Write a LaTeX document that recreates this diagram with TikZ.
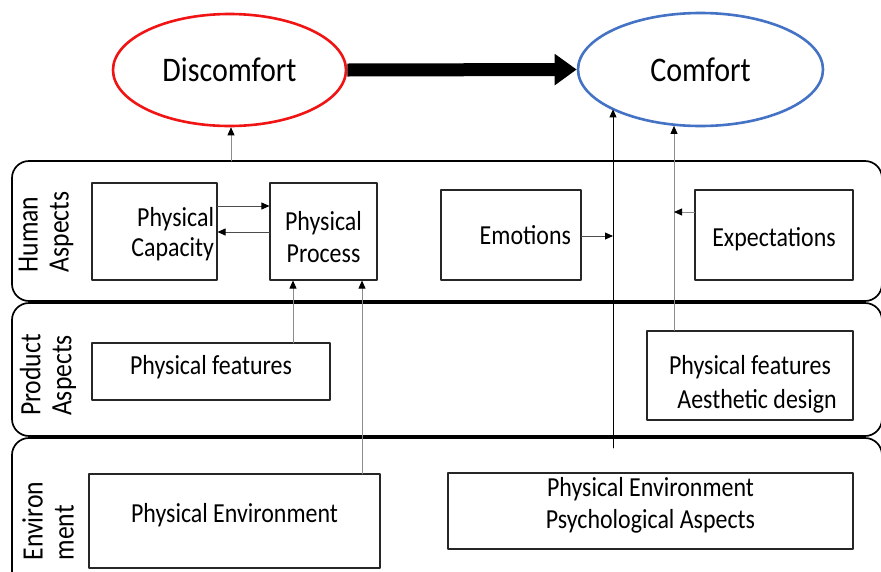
\documentclass[tikz,border=0pt]{standalone}
\usepackage{fontspec}
\setmainfont{Carlito}[FakeStretch=0.87]
\usetikzlibrary{arrows.meta,shapes.geometric}
\definecolor{disc_red}{RGB}{240,20,20}
\definecolor{comf_blue}{RGB}{68,114,196}
\colorlet{link_gray}{black!45}
\colorlet{box_line}{black!85}

\begin{document}
\begin{tikzpicture}[x=1pt,y=-1pt,line cap=round,line join=round,
  lane/.style={line width=1.7pt,rounded corners=17pt},
  box/.style={draw=box_line,line width=1.1pt,inner sep=2pt,font=\fontsize{27.5}{30}\selectfont},
  oval/.style={ellipse,line width=2.6pt,inner sep=0pt,font=\fontsize{34.5}{40}\selectfont},
  side/.style={rotate=90,align=left,inner sep=0pt,font=\fontsize{29.5}{31}\selectfont},
  link/.style={draw=link_gray,line width=0.8pt,-{Triangle[length=8pt,width=7pt,color=black]}}]

\useasboundingbox (0,0) rectangle (881,571);
\clip (0,0) rectangle (881,571);

%-----------------------------------------------
% the three lanes
\draw[lane] (12,161) rectangle (882,301);
\draw[lane] (12,303) rectangle (882,436);
\draw[lane] (12,438) rectangle (882,600);

\node[side] (hum_lbl) at (46,232) {Human\\Aspects};
\node[side] (prod_lbl) at (48,375) {Product\\Aspects};
\node[side] (env_lbl) at (48,521) {Environ\\ment};

%-----------------------------------------------
% states
\node[oval,draw=disc_red,minimum width=233pt,minimum height=112pt] (disc) at (229.5,70) {Discomfort};
\node[oval,draw=comf_blue,minimum width=245pt,minimum height=113pt] (comf) at (700.5,69.5) {Comfort};

\draw[line width=13pt,line cap=butt,-{Triangle[length=22pt,width=30pt]}] (disc.east) -- (comf.west);

%-----------------------------------------------
% boxes
\node[box,minimum width=125pt,minimum height=97pt,text width=119pt,align=right] (cap) at (154.5,231.5) {\rule{0pt}{25pt}Physical\\Capacity};
\node[box,minimum width=107pt,minimum height=97pt,align=center,font=\fontsize{27.5}{32}\selectfont] (proc) at (323.5,231.5) {\rule{0pt}{30pt}Physical\\Process};
\node[box,minimum width=140pt,minimum height=90pt,text width=120pt,align=right] (emo) at (511,235) {Emotions};
\node[box,minimum width=158pt,minimum height=90pt,align=center] (exp) at (774,235) {\rule{0pt}{27pt}Expectations};

\node[box,minimum width=238pt,minimum height=57pt] (pf1) at (211,371.5) {Physical features\rule[-13pt]{0pt}{13pt}};
\node[box,minimum width=206pt,minimum height=89pt,align=center,font=\fontsize{27.5}{34}\selectfont] (pf2) at (750,375.5) {\rule{0pt}{36pt}Physical features\\\hspace*{14pt}Aesthetic design};

\node[box,minimum width=291pt,minimum height=94pt] (pe1) at (234.5,521) {Physical Environment\rule[-17pt]{0pt}{17pt}};
\node[box,minimum width=405pt,minimum height=76pt,align=center,font=\fontsize{27.5}{32}\selectfont] (pe2) at (650.5,511) {Physical Environment\\Psychological Aspects\rule[-17pt]{0pt}{17pt}};

%-----------------------------------------------
% connectors
\coordinate (disc_foot) at (231,161);
\coordinate (trunk_foot) at (613,448);
\coordinate (emo_join) at (613,236);
\coordinate (exp_join) at (674,212);
\coordinate (pf_tap) at (293,343);
\coordinate (env_tap) at (362,474);

\draw[link] (disc_foot) -- (disc_foot |- disc.south);
\draw[link,draw=black] (trunk_foot) -- (trunk_foot |- comf.204.6);
\draw[link] (exp_join |- pf2.north) -- (exp_join |- comf.244.3);

\draw[link,draw=black!70] (emo.east |- emo_join) -- (emo_join);
\draw[link] (exp.west |- exp_join) -- (exp_join);

\draw[link,draw=black!70] (cap.east |- 0,206) -- (proc.west |- 0,206);
\draw[link,draw=black!70] (proc.west |- 0,232) -- (cap.east |- 0,232);

\draw[link] (pf_tap) -- (pf_tap |- proc.south);
\draw[link] (env_tap) -- (env_tap |- proc.south);

\end{tikzpicture}
\end{document}
